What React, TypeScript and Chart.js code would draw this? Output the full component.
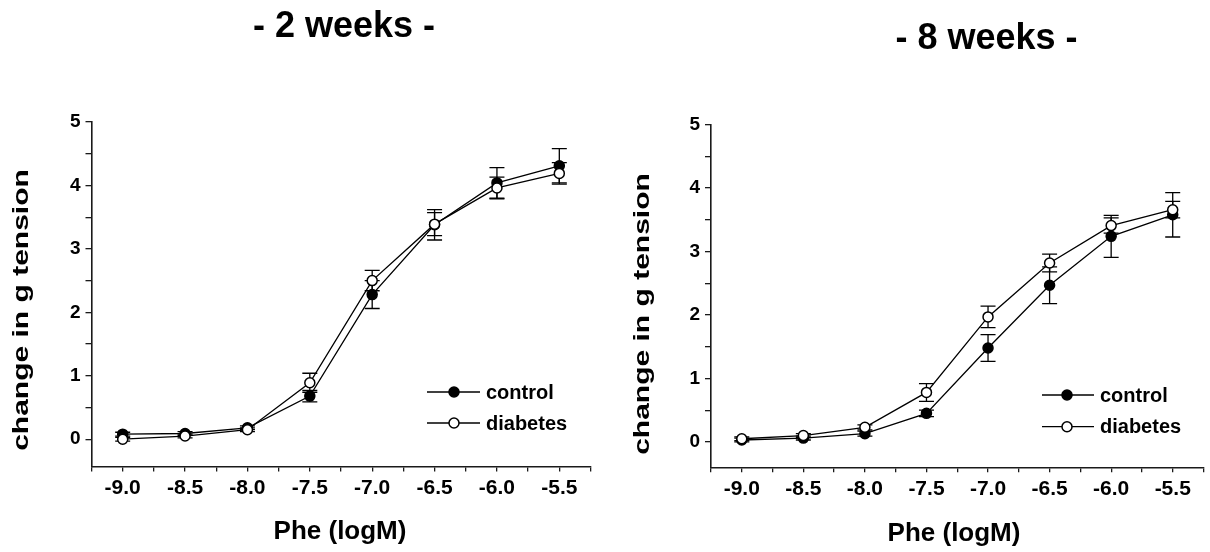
import { useEffect, useRef } from "react";
import { Chart, registerables } from "chart.js";

Chart.register(...registerables);

// Phenylephrine concentration (log M)
const doses = [-9.0, -8.5, -8.0, -7.5, -7.0, -6.5, -6.0, -5.5];
const doseLabels = ["-9.0", "-8.5", "-8.0", "-7.5", "-7.0", "-6.5", "-6.0", "-5.5"];
const tensionTicks = [0, 1, 2, 3, 4, 5];
const tensionLabels = ["0", "1", "2", "3", "4", "5"];

// 2 weeks: mean change in tension (g) and SEM
const control2w = [0.08, 0.09, 0.18, 0.68, 2.28, 3.38, 4.04, 4.31];
const control2wSem = [0.03, 0.03, 0.03, 0.09, 0.22, 0.24, 0.24, 0.27];
const diabetes2w = [0.0, 0.05, 0.15, 0.89, 2.5, 3.39, 3.96, 4.19];
const diabetes2wSem = [0.03, 0.03, 0.03, 0.15, 0.16, 0.18, 0.17, 0.17];

// 8 weeks: mean change in tension (g) and SEM
const control8w = [0.03, 0.06, 0.13, 0.45, 1.48, 2.47, 3.24, 3.58];
const control8wSem = [0.03, 0.03, 0.04, 0.05, 0.21, 0.29, 0.33, 0.35];
const diabetes8w = [0.05, 0.1, 0.23, 0.78, 1.97, 2.82, 3.41, 3.66];
const diabetes8wSem = [0.03, 0.03, 0.04, 0.14, 0.17, 0.14, 0.12, 0.13];

const panelTitles = ["- 2 weeks -", "- 8 weeks -"];
const seriesNames = ["control", "diabetes"];
const xTitle = "Phe (logM)";
const yTitle = "change in g tension";

const SANS = '"Liberation Sans", Arial, Helvetica, sans-serif';
const INK = "#000";
const AXIS = "#1a1a1a";
const CAP = 7.5;

type PanelLayout = {
  left: number;
  plotLeft: number;
  plotRight: number;
  plotTop: number;
  plotBottom: number;
  yMin: number;
  titleX: number;
  titleY: number;
  yTitleX: number;
  yTitleY: number;
  xTitleX: number;
  xTitleY: number;
  legendLine: [number, number];
  legendMarkX: number;
  legendTextX: number;
  legendY: number;
  legendDy: number;
};

const W = 605;
const H = 552;

const layouts: PanelLayout[] = [
  {
    left: 0,
    plotLeft: 91.5,
    plotRight: 590.5,
    plotTop: 122,
    plotBottom: 466.5,
    yMin: -0.43,
    titleX: 344,
    titleY: 36.5,
    yTitleX: 28,
    yTitleY: 310,
    xTitleX: 340,
    xTitleY: 539,
    legendLine: [427, 480],
    legendMarkX: 454,
    legendTextX: 486,
    legendY: 392,
    legendDy: 31,
  },
  {
    left: 605,
    plotLeft: 106,
    plotRight: 604.5,
    plotTop: 124.7,
    plotBottom: 467.3,
    yMin: -0.4,
    titleX: 381.5,
    titleY: 48.5,
    yTitleX: 44,
    yTitleY: 314,
    xTitleX: 349,
    xTitleY: 541,
    legendLine: [437, 489],
    legendMarkX: 462,
    legendTextX: 495,
    legendY: 395,
    legendDy: 31.7,
  },
];

const near = (a: number, b: number) => Math.abs(a - b) < 1e-6;

// Vertical SEM bars with caps, drawn under the markers
const semBars = {
  id: "semBars",
  beforeDatasetsDraw(chart: any) {
    const { ctx } = chart;
    const xs = chart.scales.x;
    const ys = chart.scales.y;
    ctx.save();
    ctx.strokeStyle = INK;
    ctx.lineWidth = 1.3;
    chart.data.datasets.forEach((ds: any) => {
      ds.data.forEach((p: any, i: number) => {
        const e = ds.sem[i];
        const px = xs.getPixelForValue(p.x);
        const top = ys.getPixelForValue(p.y + e);
        const bot = ys.getPixelForValue(p.y - e);
        ctx.beginPath();
        ctx.moveTo(px, top);
        ctx.lineTo(px, bot);
        ctx.moveTo(px - CAP, top);
        ctx.lineTo(px + CAP, top);
        ctx.moveTo(px - CAP, bot);
        ctx.lineTo(px + CAP, bot);
        ctx.stroke();
      });
    });
    ctx.restore();
  },
};

// Panel heading, axis titles and the line+symbol legend
const panelDecor = {
  id: "panelDecor",
  afterDraw(chart: any, _args: any, opts: any) {
    const L: PanelLayout = opts.layout;
    const { ctx } = chart;
    ctx.save();
    ctx.fillStyle = INK;

    ctx.font = `bold 36px ${SANS}`;
    ctx.textAlign = "center";
    ctx.textBaseline = "alphabetic";
    ctx.fillText(opts.title, L.titleX, L.titleY);

    ctx.font = `bold 26px ${SANS}`;
    ctx.fillText(xTitle, L.xTitleX, L.xTitleY);

    ctx.save();
    ctx.translate(L.yTitleX, L.yTitleY);
    ctx.rotate(-Math.PI / 2);
    ctx.scale(1, 0.75);
    ctx.font = `bold 30px ${SANS}`;
    ctx.textAlign = "center";
    ctx.fillText(yTitle, 0, 0);
    ctx.restore();

    chart.data.datasets.forEach((ds: any, i: number) => {
      const y = L.legendY + i * L.legendDy;
      ctx.strokeStyle = INK;
      ctx.lineWidth = 1.3;
      ctx.beginPath();
      ctx.moveTo(L.legendLine[0], y);
      ctx.lineTo(L.legendLine[1], y);
      ctx.stroke();
      ctx.beginPath();
      ctx.arc(L.legendMarkX, y, 5, 0, Math.PI * 2);
      ctx.fillStyle = ds.pointBackgroundColor;
      ctx.fill();
      ctx.lineWidth = 1.5;
      ctx.stroke();
      ctx.fillStyle = INK;
      ctx.font = `bold 20px ${SANS}`;
      ctx.textAlign = "left";
      ctx.textBaseline = "middle";
      ctx.fillText(ds.label, L.legendTextX, y + 1);
    });
    ctx.restore();
  },
};

function series(
  label: string,
  values: number[],
  sem: number[],
  fill: string,
  order: number
) {
  return {
    label,
    data: doses.map((d, i) => ({ x: d, y: values[i] })),
    sem,
    borderColor: INK,
    borderWidth: 1.3,
    pointRadius: 5,
    pointHoverRadius: 5,
    pointBackgroundColor: fill,
    pointBorderColor: INK,
    pointBorderWidth: 1.5,
    tension: 0,
    order,
  };
}

function Panel({
  index,
  control,
  controlSem,
  diabetes,
  diabetesSem,
}: {
  index: number;
  control: number[];
  controlSem: number[];
  diabetes: number[];
  diabetesSem: number[];
}) {
  const ref = useRef<HTMLCanvasElement>(null);
  const L = layouts[index];

  useEffect(() => {
    const chart = new Chart(ref.current as HTMLCanvasElement, {
      type: "line",
      data: {
        datasets: [
          series(seriesNames[0], control, controlSem, INK, 1),
          series(seriesNames[1], diabetes, diabetesSem, "#fff", 0),
        ] as any,
      },
      options: {
        animation: false,
        responsive: false,
        devicePixelRatio: 1,
        events: [],
        layout: {
          padding: { left: 0, top: L.plotTop, right: W - L.plotRight, bottom: 0 },
        },
        plugins: {
          legend: { display: false },
          tooltip: { enabled: false },
          title: { display: false },
          panelDecor: { title: panelTitles[index], layout: L },
        } as any,
        scales: {
          x: {
            type: "linear",
            min: -9.25,
            max: -5.25,
            afterFit: (s: any) => {
              s.height = H - L.plotBottom;
            },
            ticks: {
              stepSize: 0.25,
              autoSkip: false,
              maxRotation: 0,
              padding: 4,
              color: INK,
              font: { family: SANS, size: 21, weight: "bold" },
              callback: (v: any) => {
                const i = doses.findIndex((d) => near(d, Number(v)));
                return i >= 0 ? doseLabels[i] : "";
              },
            },
            grid: {
              display: true,
              drawOnChartArea: false,
              drawTicks: true,
              tickLength: 5,
              color: AXIS,
              lineWidth: 1.3,
            },
            border: { display: true, color: AXIS, width: 1.6 },
          },
          y: {
            type: "linear",
            min: L.yMin,
            max: 5,
            afterFit: (s: any) => {
              s.width = L.plotLeft;
            },
            afterBuildTicks: (s: any) => {
              s.ticks = s.ticks.filter((t: any) => t.value > -1e-6);
            },
            ticks: {
              stepSize: 0.5,
              autoSkip: false,
              padding: 5,
              color: INK,
              font: { family: SANS, size: 19, weight: "bold" },
              callback: (v: any) => {
                const i = tensionTicks.findIndex((t) => near(t, Number(v)));
                return i >= 0 ? tensionLabels[i] : "";
              },
            },
            grid: {
              display: true,
              drawOnChartArea: false,
              drawTicks: true,
              tickLength: 6,
              color: AXIS,
              lineWidth: 1.3,
            },
            border: { display: true, color: AXIS, width: 1.6 },
          },
        },
      } as any,
      plugins: [semBars, panelDecor],
    });
    return () => chart.destroy();
  }, []);

  return (
    <canvas
      ref={ref}
      width={W}
      height={H}
      style={{ position: "absolute", left: L.left, top: 0, display: "block" }}
    />
  );
}

export default function App() {
  return (
    <div
      style={{
        position: "fixed",
        left: 0,
        top: 0,
        width: 1210,
        height: 552,
        background: "#fff",
        overflow: "hidden",
      }}
    >
      <Panel
        index={0}
        control={control2w}
        controlSem={control2wSem}
        diabetes={diabetes2w}
        diabetesSem={diabetes2wSem}
      />
      <Panel
        index={1}
        control={control8w}
        controlSem={control8wSem}
        diabetes={diabetes8w}
        diabetesSem={diabetes8wSem}
      />
    </div>
  );
}
